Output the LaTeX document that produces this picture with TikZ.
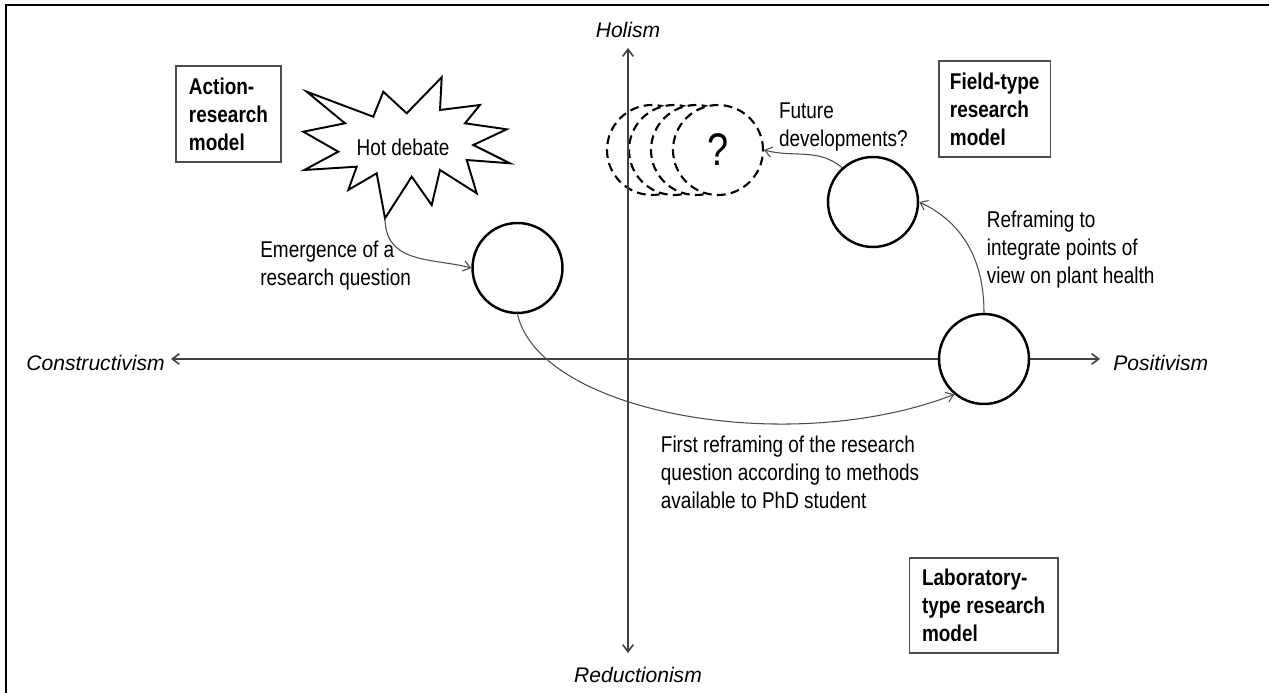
\documentclass[tikz,border=0pt]{standalone}
\usepackage{fontspec}
\setmainfont{Liberation Sans}[FakeStretch=0.83]
\newfontfamily\axisfont{Liberation Sans}
\usetikzlibrary{arrows.meta,positioning}
\begin{document}
\begin{tikzpicture}[x=0.02cm,y=0.02cm,
  qaxis/.style={{Straight Barb[length=4pt,width=6pt]}-{Straight Barb[length=4pt,width=6pt]},line width=0.9pt,draw=black!75},
  stage/.style={circle,draw=black,line width=1.4pt,fill=white,minimum size=1.8cm,inner sep=0pt},
  future/.style={stage,dash pattern=on 5pt off 3pt,line width=1.2pt},
  modelbox/.style={draw=black!70,line width=0.7pt,align=left,inner sep=0pt,font=\bfseries\fontsize{13}{15.9}\selectfont},
  comment/.style={align=left,anchor=west,inner sep=0pt,font=\fontsize{13}{15.9}\selectfont},
  axislabel/.style={inner sep=0pt,font=\axisfont\itshape\fontsize{12}{14}\selectfont},
  linkarrow/.style={-{Straight Barb[length=4pt,width=6pt]},line width=0.6pt,draw=black!70}]
\useasboundingbox (0,0) rectangle (1269,693);
\draw [line width=1.2pt] (6,0) -- (6,688) -- (1269,688);
% future developments
\node[future] (q1) at (652,543) {};
\node[future] (q2) at (674,543) {};
\node[future] (q3) at (696,543) {};
\node[future] (q4) at (718,543) {\fontsize{26}{30}\selectfont ?};
% axes
\coordinate (ytop) at (628,645);
\coordinate (ybot) at (628,40);
\coordinate (xleft) at (171,334);
\coordinate (xright) at (1100,334);
\draw [qaxis] (ybot) -- (ytop);
\draw [qaxis] (xleft) -- (xright);
\node[axislabel] (holism) at (628,663) {Holism};
\node[axislabel] (reduct) at (638,18) {Reductionism};
\node[axislabel,anchor=east] (constr) at (165,330) {Constructivism};
\node[axislabel,anchor=west] (posit) at (1113,330) {Positivism};
% hot debate
\draw [line width=1.1pt,fill=white] (306.7,601.3) -- (373.3,576.3) -- (383.3,601.3) -- (406.7,579.7)
  -- (441.7,615.7) -- (440,583) -- (480,588) -- (465,569.7) -- (506.7,563.7) -- (473.3,548)
  -- (510,529.7) -- (466.7,533) -- (476.7,499.7) -- (440,523) -- (431.7,488) -- (411.7,516.3)
  -- (385,474.7) -- (376.7,519.7) -- (348.3,503) -- (356.7,526.3) -- (304.3,523) -- (338.3,541.3)
  -- (303.3,561.3) -- (345,569.7) -- cycle;
\node[font=\fontsize{13}{15.9}\selectfont] (hot) at (403,546) {Hot debate};
\coordinate (hottip) at (385,475);
% stages
\node[stage] (c1) at (517.5,425) {};
\node[stage] (c2) at (873,491) {};
\node[stage] (c3) at (984,334) {};
% models
\node[modelbox,minimum width=2.1cm,minimum height=1.92cm] (action) at (228.5,579) {Action-\\research\\model};
\node[modelbox,minimum width=2.23cm,minimum height=1.92cm] (field) at (994.7,584) {Field-type\\research\\model};
\node[modelbox,minimum width=2.97cm,minimum height=1.9cm] (lab) at (983.7,87.5) {Laboratory-\\type research\\model};
% comments
\node[comment] (emerg) at (260,427) {Emergence of a\\research question};
\node[comment] (futdev) at (778.7,566) {Future\\developments?};
\node[comment] (refr) at (986.6,443) {Reframing to\\integrate points of\\view on plant health};
\node[comment] (first) at (660.6,221) {First reframing of the research\\question according to methods\\available to PhD student};
% links
\draw [linkarrow] (hottip) to[out=-90,in=165,out looseness=1.2] (c1.west);
\draw [linkarrow] (c1.south) .. controls (540,280) and (790,235) .. (c3.230);
\draw [linkarrow] (c3.north) to[out=90,in=-25] (c2.east);
\draw [linkarrow] (c2.132) to[out=140,in=-15] (q4.east);
\end{tikzpicture}
\end{document}
